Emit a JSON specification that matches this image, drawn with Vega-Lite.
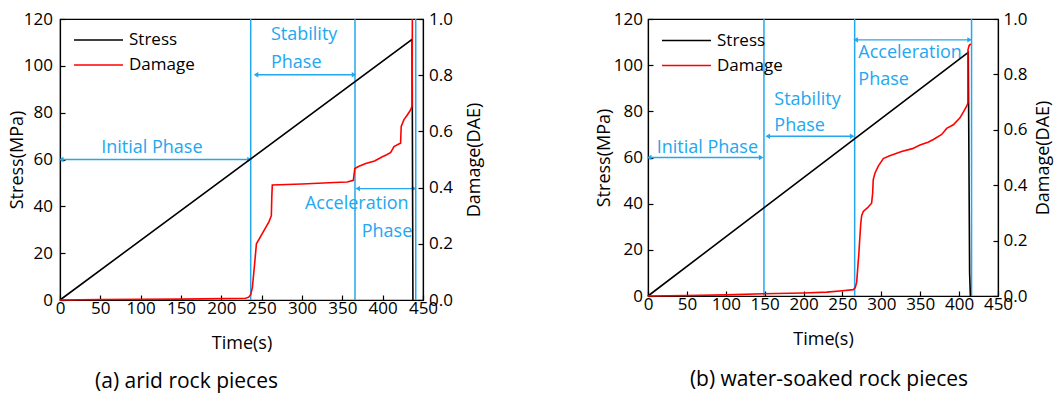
{
  "$schema": "https://vega.github.io/schema/vega-lite/v6.json",
  "padding": {"left": 7, "top": 9, "right": 0, "bottom": 0},
  "spacing": 109,
  "datasets": {
    "stressA": [
      {"t": 0, "y": 0, "s": "Stress"},
      {"t": 436.5, "y": 111.3, "s": "Stress"},
      {"t": 437.5, "y": 0, "s": "Stress"}
    ],
    "damageA": [
      {"t": 0, "d": 0, "s": "Damage"},
      {"t": 50, "d": 0.002, "s": "Damage"},
      {"t": 150, "d": 0.003, "s": "Damage"},
      {"t": 230, "d": 0.006, "s": "Damage"},
      {"t": 234, "d": 0.01, "s": "Damage"},
      {"t": 236.5, "d": 0.02, "s": "Damage"},
      {"t": 238.5, "d": 0.045, "s": "Damage"},
      {"t": 241, "d": 0.12, "s": "Damage"},
      {"t": 243.5, "d": 0.2, "s": "Damage"},
      {"t": 250.5, "d": 0.235, "s": "Damage"},
      {"t": 259, "d": 0.278, "s": "Damage"},
      {"t": 262, "d": 0.3, "s": "Damage"},
      {"t": 262.6, "d": 0.37, "s": "Damage"},
      {"t": 263.2, "d": 0.409, "s": "Damage"},
      {"t": 300, "d": 0.413, "s": "Damage"},
      {"t": 340, "d": 0.418, "s": "Damage"},
      {"t": 356, "d": 0.42, "s": "Damage"},
      {"t": 363.6, "d": 0.426, "s": "Damage"},
      {"t": 365.5, "d": 0.468, "s": "Damage"},
      {"t": 370, "d": 0.475, "s": "Damage"},
      {"t": 379, "d": 0.486, "s": "Damage"},
      {"t": 390, "d": 0.495, "s": "Damage"},
      {"t": 399.6, "d": 0.51, "s": "Damage"},
      {"t": 405, "d": 0.517, "s": "Damage"},
      {"t": 410, "d": 0.525, "s": "Damage"},
      {"t": 414, "d": 0.546, "s": "Damage"},
      {"t": 420, "d": 0.555, "s": "Damage"},
      {"t": 422.2, "d": 0.558, "s": "Damage"},
      {"t": 423, "d": 0.618, "s": "Damage"},
      {"t": 426.4, "d": 0.642, "s": "Damage"},
      {"t": 431, "d": 0.66, "s": "Damage"},
      {"t": 434.7, "d": 0.677, "s": "Damage"},
      {"t": 436.5, "d": 0.69, "s": "Damage"},
      {"t": 436.8, "d": 1.0, "s": "Damage"}
    ],
    "phasesA": [{"t": 236.4}, {"t": 365.7}, {"t": 441}],
    "arrowsA": [
      {"t": 1.5, "t2": 235, "y": 60},
      {"t": 243, "t2": 364.5, "y": 96.2},
      {"t": 369, "t2": 439, "y": 47.6}
    ],
    "labelsA": [
      {"t": 51, "y": 65, "label": "Initial Phase"},
      {"t": 261.5, "y": 113.2, "label": "Stability"},
      {"t": 261.5, "y": 101.4, "label": "Phase"},
      {"t": 303.7, "y": 40.9, "label": "Acceleration"},
      {"t": 374, "y": 28.9, "label": "Phase"}
    ],
    "stressB": [
      {"t": 0, "y": 0, "s": "Stress"},
      {"t": 411.8, "y": 105.6, "s": "Stress"},
      {"t": 413.5, "y": 10, "s": "Stress"},
      {"t": 414.5, "y": 0, "s": "Stress"}
    ],
    "damageB": [
      {"t": 0, "d": 0, "s": "Damage"},
      {"t": 50, "d": 0.002, "s": "Damage"},
      {"t": 100, "d": 0.004, "s": "Damage"},
      {"t": 148, "d": 0.008, "s": "Damage"},
      {"t": 200, "d": 0.011, "s": "Damage"},
      {"t": 230, "d": 0.014, "s": "Damage"},
      {"t": 250, "d": 0.019, "s": "Damage"},
      {"t": 264, "d": 0.023, "s": "Damage"},
      {"t": 266.5, "d": 0.03, "s": "Damage"},
      {"t": 268.3, "d": 0.05, "s": "Damage"},
      {"t": 271, "d": 0.15, "s": "Damage"},
      {"t": 273.5, "d": 0.26, "s": "Damage"},
      {"t": 274.7, "d": 0.29, "s": "Damage"},
      {"t": 276.8, "d": 0.305, "s": "Damage"},
      {"t": 282, "d": 0.318, "s": "Damage"},
      {"t": 287.5, "d": 0.335, "s": "Damage"},
      {"t": 288.8, "d": 0.37, "s": "Damage"},
      {"t": 289.6, "d": 0.42, "s": "Damage"},
      {"t": 292, "d": 0.445, "s": "Damage"},
      {"t": 296.1, "d": 0.469, "s": "Damage"},
      {"t": 302.5, "d": 0.496, "s": "Damage"},
      {"t": 310, "d": 0.505, "s": "Damage"},
      {"t": 326, "d": 0.522, "s": "Damage"},
      {"t": 340, "d": 0.532, "s": "Damage"},
      {"t": 349.7, "d": 0.545, "s": "Damage"},
      {"t": 360, "d": 0.555, "s": "Damage"},
      {"t": 366.9, "d": 0.565, "s": "Damage"},
      {"t": 377.6, "d": 0.583, "s": "Damage"},
      {"t": 384, "d": 0.605, "s": "Damage"},
      {"t": 392.6, "d": 0.618, "s": "Damage"},
      {"t": 401.1, "d": 0.643, "s": "Damage"},
      {"t": 405, "d": 0.662, "s": "Damage"},
      {"t": 409.7, "d": 0.685, "s": "Damage"},
      {"t": 411.3, "d": 0.697, "s": "Damage"},
      {"t": 411.4, "d": 0.889, "s": "Damage"},
      {"t": 413, "d": 0.905, "s": "Damage"},
      {"t": 415, "d": 0.91, "s": "Damage"}
    ],
    "phasesB": [{"t": 149.1}, {"t": 265.7}, {"t": 416}],
    "arrowsB": [
      {"t": 1.5, "t2": 145.5, "y": 60},
      {"t": 154, "t2": 262.5, "y": 69.2},
      {"t": 267, "t2": 413.5, "y": 111}
    ],
    "labelsB": [
      {"t": 11.2, "y": 64.2, "label": "Initial Phase"},
      {"t": 162.4, "y": 85, "label": "Stability"},
      {"t": 162.4, "y": 73.8, "label": "Phase"},
      {"t": 270.4, "y": 105.3, "label": "Acceleration"},
      {"t": 270.4, "y": 93.7, "label": "Phase"}
    ]
  },
  "hconcat": [
    {
      "width": 363,
      "height": 281,
      "title": {"text": "(a) arid rock pieces", "orient": "bottom", "anchor": "middle", "fontSize": 21, "fontWeight": "normal", "offset": 19, "dx": -55},
      "encoding": {
        "x": {"field": "t", "type": "quantitative", "scale": {"domain": [0, 450]},
              "axis": {"title": "Time(s)", "values": [0, 50, 100, 150, 200, 250, 300, 350, 400, 450], "labelPadding": 5, "titlePadding": 18}}
      },
      "layer": [
        {
          "data": {"name": "phasesA"},
          "mark": {"type": "rule", "color": "#22A7F0", "strokeWidth": 1.5}
        },
        {
          "encoding": {
            "y": {"field": "y", "type": "quantitative", "scale": {"domain": [0, 120]},
                  "axis": {"title": "Stress(MPa)", "values": [0, 20, 40, 60, 80, 100, 120], "labelPadding": 12.5, "titlePadding": -3}}
          },
          "layer": [
            {
              "data": {"name": "arrowsA"},
              "mark": {"type": "rule", "color": "#22A7F0", "strokeWidth": 1.3},
              "encoding": {"x2": {"field": "t2"}}
            },
            {
              "data": {"name": "arrowsA"},
              "mark": {"type": "point", "shape": "triangle-left", "filled": true, "color": "#22A7F0", "size": 28, "opacity": 1}
            },
            {
              "data": {"name": "arrowsA"},
              "mark": {"type": "point", "shape": "triangle-right", "filled": true, "color": "#22A7F0", "size": 28, "opacity": 1},
              "encoding": {
                "x": {"field": "t2", "type": "quantitative", "scale": {"domain": [0, 450]},
                      "axis": {"title": "Time(s)", "values": [0, 50, 100, 150, 200, 250, 300, 350, 400, 450], "labelPadding": 5, "titlePadding": 18}}
              }
            },
            {
              "data": {"name": "labelsA"},
              "mark": {"type": "text", "align": "left", "baseline": "middle", "fontSize": 18, "color": "#22A7F0"},
              "encoding": {"text": {"field": "label"}}
            },
            {
              "data": {"name": "stressA"},
              "mark": {"type": "line", "strokeWidth": 1.6},
              "encoding": {
                "color": {"field": "s", "type": "nominal", "scale": {"domain": ["Stress", "Damage"], "range": ["black", "red"]}, "legend": {"title": null, "legendY": 10.5}}
              }
            }
          ]
        },
        {
          "data": {"name": "damageA"},
          "mark": {"type": "line", "strokeWidth": 1.6},
          "encoding": {
            "y": {"field": "d", "type": "quantitative", "scale": {"domain": [0, 1]},
                  "axis": {"orient": "right", "title": "Damage(DAE)", "format": ".1f", "values": [0, 0.2, 0.4, 0.6, 0.8, 1], "labelPadding": 10.5, "titlePadding": 13, "titleAngle": 270, "titleBaseline": "top"}},
            "color": {"field": "s", "type": "nominal", "scale": {"domain": ["Stress", "Damage"], "range": ["black", "red"]}, "legend": {"title": null, "legendY": 10.5}}
          }
        }
      ],
      "resolve": {"scale": {"y": "independent"}}
    },
    {
      "width": 350,
      "height": 277,
      "title": {"text": "(b) water-soaked rock pieces", "orient": "bottom", "anchor": "middle", "fontSize": 21, "fontWeight": "normal", "offset": 21, "dx": 6},
      "encoding": {
        "x": {"field": "t", "type": "quantitative", "scale": {"domain": [0, 450]},
              "axis": {"title": "Time(s)", "values": [0, 50, 100, 150, 200, 250, 300, 350, 400, 450], "labelPadding": 5, "titlePadding": 18}}
      },
      "layer": [
        {
          "data": {"name": "phasesB"},
          "mark": {"type": "rule", "color": "#22A7F0", "strokeWidth": 1.5}
        },
        {
          "encoding": {
            "y": {"field": "y", "type": "quantitative", "scale": {"domain": [0, 120]},
                  "axis": {"title": "Stress(MPa)", "values": [0, 20, 40, 60, 80, 100, 120], "labelPadding": 10.5, "titlePadding": 0}}
          },
          "layer": [
            {
              "data": {"name": "arrowsB"},
              "mark": {"type": "rule", "color": "#22A7F0", "strokeWidth": 1.3},
              "encoding": {"x2": {"field": "t2"}}
            },
            {
              "data": {"name": "arrowsB"},
              "mark": {"type": "point", "shape": "triangle-left", "filled": true, "color": "#22A7F0", "size": 28, "opacity": 1}
            },
            {
              "data": {"name": "arrowsB"},
              "mark": {"type": "point", "shape": "triangle-right", "filled": true, "color": "#22A7F0", "size": 28, "opacity": 1},
              "encoding": {
                "x": {"field": "t2", "type": "quantitative", "scale": {"domain": [0, 450]},
                      "axis": {"title": "Time(s)", "values": [0, 50, 100, 150, 200, 250, 300, 350, 400, 450], "labelPadding": 5, "titlePadding": 18}}
              }
            },
            {
              "data": {"name": "labelsB"},
              "mark": {"type": "text", "align": "left", "baseline": "middle", "fontSize": 18, "color": "#22A7F0"},
              "encoding": {"text": {"field": "label"}}
            },
            {
              "data": {"name": "stressB"},
              "mark": {"type": "line", "strokeWidth": 1.6},
              "encoding": {
                "color": {"field": "s", "type": "nominal", "scale": {"domain": ["Stress", "Damage"], "range": ["black", "red"]}, "legend": {"title": null, "legendY": 11}}
              }
            }
          ]
        },
        {
          "data": {"name": "damageB"},
          "mark": {"type": "line", "strokeWidth": 1.6},
          "encoding": {
            "y": {"field": "d", "type": "quantitative", "scale": {"domain": [0, 1]},
                  "axis": {"orient": "right", "title": "Damage(DAE)", "format": ".1f", "values": [0, 0.2, 0.4, 0.6, 0.8, 1], "labelPadding": 10, "titlePadding": 8, "titleAngle": 270, "titleBaseline": "top"}},
            "color": {"field": "s", "type": "nominal", "scale": {"domain": ["Stress", "Damage"], "range": ["black", "red"]}, "legend": {"title": null, "legendY": 11}}
          }
        }
      ],
      "resolve": {"scale": {"y": "independent"}}
    }
  ],
  "resolve": {"scale": {"color": "independent"}},
  "config": {
    "font": "Open Sans",
    "view": {"stroke": "black", "strokeWidth": 1.2},
    "axis": {
      "domainColor": "black",
      "domainWidth": 1.2,
      "tickColor": "black",
      "tickWidth": 1.2,
      "tickSize": -5,
      "labelColor": "black",
      "titleColor": "black",
      "labelFontSize": 17,
      "titleFontSize": 18,
      "titleFontWeight": "normal",
      "grid": false,
      "labelFlush": false,
      "labelOverlap": false
    },
    "legend": {
      "orient": "none",
      "legendX": 13,
      "padding": 0,
      "symbolType": "stroke",
      "symbolSize": 2400,
      "symbolStrokeWidth": 1.6,
      "labelFontSize": 17,
      "labelColor": "black",
      "labelOffset": 5,
      "clipHeight": 21,
      "rowPadding": 4
    }
  }
}
